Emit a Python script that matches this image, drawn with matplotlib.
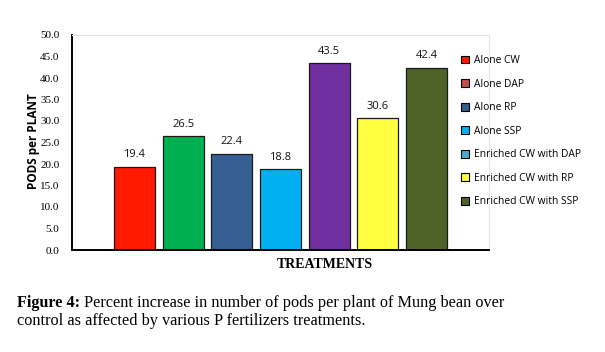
import matplotlib
matplotlib.use("Agg")
import matplotlib.pyplot as plt
from matplotlib.patches import Patch

treatments = ["Alone CW", "Alone DAP", "Alone RP", "Alone SSP",
              "Enriched CW with DAP", "Enriched CW with RP", "Enriched CW with SSP"]
values = [19.4, 26.5, 22.4, 18.8, 43.5, 30.6, 42.4]
bar_colors = ["#FF1A00", "#00B050", "#376092", "#00B0F0", "#7030A0", "#FFFF40", "#4F6228"]
legend_colors = ["#FF1A00", "#C0504D", "#385D8A", "#00B0F0", "#4BACC6", "#FFFF40", "#4F6228"]
y_ticks = [0, 5, 10, 15, 20, 25, 30, 35, 40, 45, 50]

fig = plt.figure(figsize=(6.05, 3.52), dpi=100)
ax = fig.add_axes([72/605, 1-250/352, (489-72)/605, (250-35)/352])

x = list(range(1, len(values) + 1))
ax.bar(x, values, width=0.84, color=bar_colors, edgecolor="#1a1a1a", linewidth=0.9)
for xi, v in zip(x, values):
    ax.text(xi, v + 1.5, f"{v:.1f}", ha="center", va="bottom", fontsize=8,
            family="Open Sans", color="#111111")

ax.set_xlim(-0.283, 8.283)
ax.set_ylim(0, 50)
ax.set_yticks(y_ticks)
ax.set_yticklabels([f"{t:.1f}" for t in y_ticks], family="Liberation Serif", fontsize=8)
ax.tick_params(axis="y", length=0, pad=9)
ax.set_xticks([])
for s in ["top", "right"]:
    ax.spines[s].set_color("#e6e6e6")
    ax.spines[s].set_linewidth(0.8)
ax.spines["left"].set_linewidth(1.4)
ax.spines["bottom"].set_linewidth(1.4)

fig.text(34/605, 1-141/352, "PODS per PLANT", rotation=90, ha="center", va="center",
         fontsize=8.5, fontweight="bold", family="Open Sans")
fig.text(325/605, 1-265/352, "TREATMENTS", ha="center", va="center",
         fontsize=10, fontweight="bold", family="Liberation Serif")

handles = [Patch(facecolor=c, edgecolor="black", linewidth=0.8) for c in legend_colors]
fig.legend(handles, treatments, loc="upper left", bbox_to_anchor=(457/605, 1-51/352),
           frameon=False, prop={"family": "Open Sans", "size": 7.4},
           handlelength=0.8, handleheight=0.8, handletextpad=0.45,
           labelspacing=1.22, borderaxespad=0)

cap_size = 11.7
fig.canvas.draw()
renderer = fig.canvas.get_renderer()
bold = fig.text(17/605, 1-303/352, "Figure 4:", ha="left", va="center", fontsize=cap_size,
                family="Liberation Serif", fontweight="bold")
bb = bold.get_window_extent(renderer=renderer)
fig.text((bb.x1 + 4)/605, 1-303/352,
         "Percent increase in number of pods per plant of Mung bean over",
         ha="left", va="center", fontsize=cap_size, family="Liberation Serif")
fig.text(17/605, 1-321/352, "control as affected by various P fertilizers treatments.",
         ha="left", va="center", fontsize=cap_size, family="Liberation Serif")

fig.savefig("out.png", dpi=100)
